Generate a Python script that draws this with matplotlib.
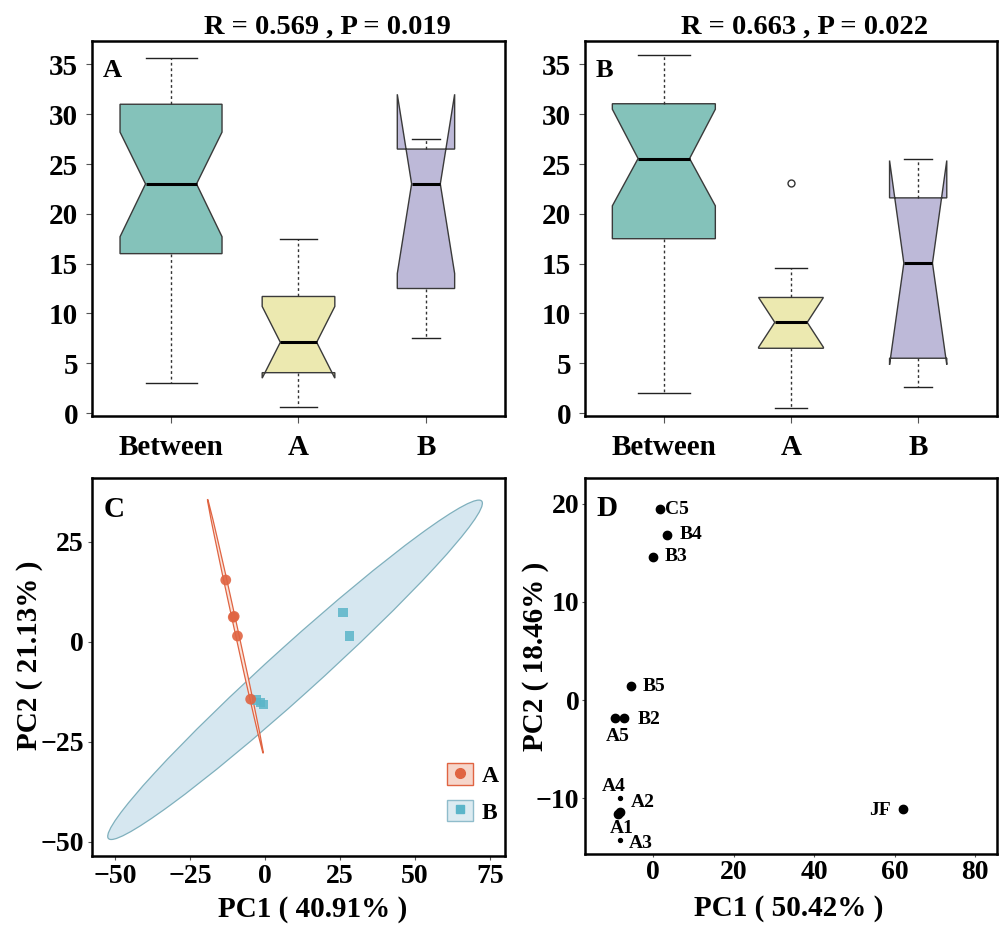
import numpy as np
import matplotlib
matplotlib.use('Agg')
import matplotlib.pyplot as plt
from matplotlib.patches import Ellipse, Patch
from matplotlib.lines import Line2D

# %% Data
groups = ['Between', 'A', 'B']

# panel A : R = 0.569 , P = 0.019
a_whislo = [3.0, 0.6, 7.55]
a_q1 = [16.0, 4.05, 12.5]
a_med = [23.0, 7.1, 23.0]
a_q3 = [31.0, 11.7, 26.5]
a_whishi = [35.6, 17.5, 27.5]
a_cilo = [17.7, 3.5, 14.0]
a_cihi = [28.2, 10.7, 32.0]
a_fliers = [[], [], []]

# panel B : R = 0.663 , P = 0.022
b_whislo = [2.0, 0.55, 2.6]
b_q1 = [17.5, 6.5, 5.5]
b_med = [25.55, 9.1, 15.05]
b_q3 = [31.05, 11.6, 21.6]
b_whishi = [35.9, 14.55, 25.5]
b_cilo = [20.8, 6.6, 4.85]
b_cihi = [30.5, 11.6, 25.35]
b_fliers = [[], [23.1], []]

# panel C : PCA scores
pca_a_x = [-13.1, -10.6, -10.3, -9.2, -4.8]
pca_a_y = [15.4, 6.1, 6.3, 1.4, -14.4]
pca_b_x = [26.0, 28.1, -0.6, -2.8, -1.6]
pca_b_y = [7.2, 1.4, -15.65, -14.6, -15.2]
# ellipses: centre x, centre y, semi-major, semi-minor, angle (deg)
ell_a = [-9.9, 3.85, 33.1, 0.55, -73.7]
ell_b = [10.0, -7.05, 75.2, 6.8, 34.0]

# panel D : PCoA scores
pcoa_labels = ['C5', 'B4', 'B3', 'B5', 'B2', 'A5', 'A4', 'A2', 'A1', 'A3', 'JF']
pcoa_x = [1.64, 3.47, 0.0, -5.6, -7.1, -9.35, -8.1, -8.3, -8.7, -8.1, 62.0]
pcoa_y = [19.4, 16.8, 14.6, 1.42, -1.83, -1.83, -10.0, -11.4, -11.6, -14.25, -11.1]

# %% Styling
plt.rcParams['font.family'] = 'Liberation Serif'
plt.rcParams['font.weight'] = 'bold'
plt.rcParams['axes.linewidth'] = 1.8

box_colors = ['#84c2ba', '#ece9b0', '#bdb9d8']
col_a = '#e06442'
col_b = '#5bb5c9'

W, H = 1004, 927
fig = plt.figure(figsize=(W / 100, H / 100), dpi=100)


def px_axes(l, t, r, b):
    return fig.add_axes([l / W, 1 - b / H, (r - l) / W, (b - t) / H])


def draw_box(ax, whislo, q1, med, q3, whishi, cilo, cihi, fliers, widths, title, tx, letter):
    stats = []
    for i in range(len(groups)):
        stats.append(dict(whislo=whislo[i], q1=q1[i], med=med[i], q3=q3[i],
                          whishi=whishi[i], cilo=cilo[i], cihi=cihi[i],
                          fliers=fliers[i], label=groups[i]))
    bp = ax.bxp(stats, positions=[1, 2, 3], widths=widths, shownotches=True,
                patch_artist=True,
                boxprops=dict(edgecolor='#3a3a3a', linewidth=1.0),
                whiskerprops=dict(color='#333333', linewidth=1.0, linestyle=(0, (2, 2))),
                capprops=dict(color='#222222', linewidth=1.0),
                medianprops=dict(color='black', linewidth=2.2),
                flierprops=dict(marker='o', markerfacecolor='none',
                                markeredgecolor='#333333', markersize=5))
    for patch, c in zip(bp['boxes'], box_colors):
        patch.set_facecolor(c)
    ax.set_xlim(0.38, 3.62)
    ax.set_ylim(-0.3, 37.35)
    ax.set_yticks(np.arange(0, 36, 5))
    ax.tick_params(axis='y', labelsize=21, length=4, width=0.8, pad=6, color='#555555')
    ax.tick_params(axis='x', labelsize=21, length=5, width=0.8, pad=8, color='#555555')
    ax.text(tx, 1.02, title, transform=ax.transAxes, ha='center', va='baseline',
            fontsize=20.5, fontweight='bold')
    ax.text(0.027, 0.905, letter, transform=ax.transAxes, ha='left', va='baseline',
            fontsize=19, fontweight='bold')


axA = px_axes(92, 41, 505, 416)
draw_box(axA, a_whislo, a_q1, a_med, a_q3, a_whishi, a_cilo, a_cihi, a_fliers,
         [0.8, 0.57, 0.45], 'R = 0.569 , P = 0.019', 0.571, 'A')

axB = px_axes(585, 41, 997, 416)
draw_box(axB, b_whislo, b_q1, b_med, b_q3, b_whishi, b_cilo, b_cihi, b_fliers,
         [0.81, 0.51, 0.45], 'R = 0.663 , P = 0.022', 0.534, 'B')

# %% Panel C
axC = px_axes(92, 478, 505, 856)
for ell, c, fc in [(ell_b, '#7fb0bd', '#d6e7f0'), (ell_a, col_a, '#fae3da')]:
    ax_e = Ellipse((ell[0], ell[1]), 2 * ell[2], 2 * ell[3], angle=ell[4],
                   facecolor=fc, edgecolor=c, linewidth=0.9)
    axC.add_patch(ax_e)
axC.scatter(pca_b_x, pca_b_y, marker='s', s=45, color=col_b, alpha=0.85,
            edgecolors='none', zorder=3)
axC.scatter(pca_a_x, pca_a_y, marker='o', s=60, color=col_a, alpha=0.9,
            edgecolors='none', zorder=4)
axC.set_xlim(-57.7, 80)
axC.set_ylim(-53.6, 40.9)
axC.set_xticks([-50, -25, 0, 25, 50, 75])
axC.set_yticks([-50, -25, 0, 25])
axC.tick_params(labelsize=20, length=3, width=0.8, pad=3, color='#555555')
axC.set_xlabel('PC1 ( 40.91% )', fontsize=21, fontweight='bold')
axC.set_ylabel('PC2 ( 21.13% )', fontsize=21, fontweight='bold')
axC.xaxis.set_label_coords(0.534, -0.105)
axC.yaxis.set_label_coords(-0.118, 0.532)
axC.text(0.027, 0.898, 'C', transform=axC.transAxes, fontsize=21, fontweight='bold')

h_a = (Patch(facecolor='#f6d6cb', edgecolor=col_a, linewidth=1.0),
       Line2D([], [], marker='o', linestyle='none', color=col_a, markersize=7))
h_b = (Patch(facecolor='#dcebf1', edgecolor='#8fbccb', linewidth=1.0),
       Line2D([], [], marker='s', linestyle='none', color=col_b, markersize=6))
axC.legend([h_a, h_b], ['A', 'B'], loc='upper left', bbox_to_anchor=(0.86, 0.245),
           frameon=False, fontsize=17, handlelength=1.1, handleheight=1.0,
           handletextpad=0.35, labelspacing=0.55, borderpad=0, borderaxespad=0)

# %% Panel D
axD = px_axes(585, 478, 997, 854)
small_pts = ['A4', 'A3']
label_offsets = {'C5': (3.6, 0, 'left'), 'B4': (9.4, 0, 'left'), 'B3': (8.6, 0, 'left'),
                 'B5': (8.6, 0, 'left'), 'B2': (9.4, -1, 'left'), 'A5': (1.7, -13.5, 'center'),
                 'A4': (-4.8, 8.4, 'center'), 'A2': (7.7, 7.0, 'left'),
                 'A1': (2.9, -10.3, 'center'), 'A3': (5.8, -2.4, 'left'),
                 'JF': (-8.6, -1, 'right')}
for lab, x, y in zip(pcoa_labels, pcoa_x, pcoa_y):
    axD.scatter([x], [y], s=8 if lab in small_pts else 36, color='black', zorder=3)
    dx, dy, ha = label_offsets[lab]
    axD.annotate(lab, (x, y), xytext=(dx, dy), textcoords='offset points',
                 ha=ha, va='center', fontsize=14, fontweight='bold')
axD.set_xlim(-16.9, 85.4)
axD.set_ylim(-15.66, 22.6)
axD.set_xticks([0, 20, 40, 60, 80])
axD.set_yticks([-10, 0, 10, 20])
axD.tick_params(labelsize=20, length=2, width=0.8, pad=2, color='#555555')
axD.set_xlabel('PC1 ( 50.42% )', fontsize=21, fontweight='bold')
axD.set_ylabel('PC2 ( 18.46% )', fontsize=21, fontweight='bold')
axD.xaxis.set_label_coords(0.495, -0.11)
axD.yaxis.set_label_coords(-0.088, 0.525)
axD.text(0.028, 0.9, 'D', transform=axD.transAxes, fontsize=21, fontweight='bold')

fig.savefig('out.png', dpi=100)
